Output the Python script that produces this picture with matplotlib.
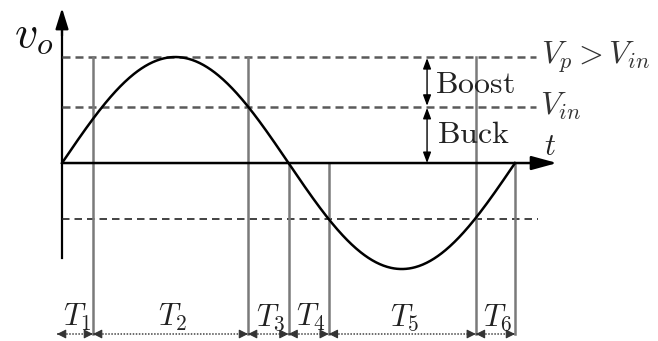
import numpy as np
import matplotlib
matplotlib.use("Agg")
import matplotlib.pyplot as plt

plt.rcParams["mathtext.fontset"] = "cm"

# Levels (in units of the peak voltage)
Vp = 1.0
Vin = 0.53

# Interval boundaries along t (radians of one period)
t_bounds = [0.0, 0.43, 2.58, np.pi, 3.70, 5.74, 2 * np.pi]
interval_labels = ["$T_1$", "$T_2$", "$T_3$", "$T_4$", "$T_5$", "$T_6$"]
# which boundaries start at the Vp line (the others start at the t axis)
from_peak = [False, True, True, False, False, True, False]

t = np.linspace(0, 2 * np.pi, 600)
vo = Vp * np.sin(t)

fig = plt.figure(figsize=(6.58, 3.41), dpi=100)
ax = fig.add_axes([0, 0, 1, 1])
ax.set_xlim(-0.860, 8.266)
ax.set_ylim(-1.679, 1.538)
ax.axis("off")

# axes with arrow heads
ax.plot([0, 0], [-0.896, 1.3], color="black", lw=1.6)
ax.annotate("", xy=(0, 1.462), xytext=(0, 1.2),
            arrowprops=dict(arrowstyle="-|>,head_length=0.9,head_width=0.28",
                            color="black", lw=1.6, shrinkA=0, shrinkB=0,
                            mutation_scale=14))
ax.annotate("", xy=(6.866, 0), xytext=(0, 0),
            arrowprops=dict(arrowstyle="-|>,head_length=1.1,head_width=0.3",
                            color="black", lw=1.8, shrinkA=0, shrinkB=0,
                            mutation_scale=14))

# reference levels
dash = (0, (3.2, 2.0))
ax.plot([0, 6.575], [Vp, Vp], ls=dash, color="#5a5a5a", lw=1.8)
ax.plot([0, 6.575], [Vin, Vin], ls=dash, color="#5a5a5a", lw=1.8)
ax.plot([0, 6.60], [-Vin, -Vin], ls=(0, (4.5, 3.0)), color="#222222", lw=1.2)

# interval boundaries
y_bot = -1.613
for tb, top in zip(t_bounds, from_peak):
    if tb == 0:
        continue
    ax.plot([tb, tb], [Vp if top else 0, y_bot], color="#7a7a7a", lw=1.8)

# output voltage
ax.plot(t, vo, color="black", lw=1.8)

# buck / boost ranges
head = dict(arrowstyle="<|-|>,head_length=0.8,head_width=0.3", color="black",
            lw=1.0, shrinkA=0, shrinkB=0, mutation_scale=8)
ax.annotate("", xy=(5.063, Vp - 0.01), xytext=(5.063, Vin + 0.01), arrowprops=head)
ax.annotate("", xy=(5.063, Vin - 0.01), xytext=(5.063, 0.0), arrowprops=head)
ax.text(5.17, 0.745, r"$\mathrm{Boost}$", fontsize=23, va="center", ha="left",
        color="#222222")
ax.text(5.20, 0.27, r"$\mathrm{Buck}$", fontsize=23, va="center", ha="left",
        color="#222222")

# right-hand labels
ax.text(6.64, 1.0, r"$V_p > V_{in}$", fontsize=23, va="center", ha="left",
        color="#333333")
ax.text(6.63, 0.54, r"$V_{in}$", fontsize=23, va="center", ha="left",
        color="#333333")
ax.text(6.77, 0.16, r"$t$", fontsize=22, va="center", ha="center",
        color="#222222")
ax.text(-0.40, 1.21, r"$v_o$", fontsize=33, va="center", ha="center",
        color="#111111")

# interval arrows along the bottom
small = dict(arrowstyle="-|>,head_length=0.9,head_width=0.45", color="#333333",
             lw=0.8, shrinkA=0, shrinkB=0, mutation_scale=6)
starts = [-0.07] + t_bounds[1:-1]
for a, b, lab in zip(starts, t_bounds[1:], interval_labels):
    ax.plot([a, b], [y_bot, y_bot], ls=(0, (1, 1)), color="#444444", lw=1.1)
    ax.annotate("", xy=(a, y_bot), xytext=(a + 0.09, y_bot), arrowprops=small)
    ax.annotate("", xy=(b, y_bot), xytext=(b - 0.09, y_bot), arrowprops=small)
    ax.text((a + b) / 2 + 0.03, -1.54, lab, fontsize=22, ha="center",
            va="baseline", color="#222222")

fig.savefig("out.png", dpi=100)
